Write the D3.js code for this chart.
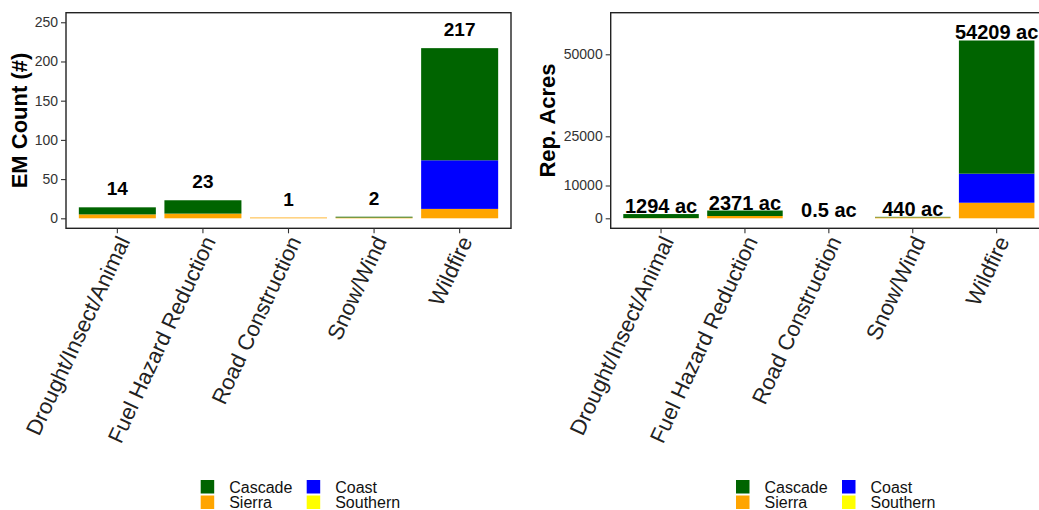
<!DOCTYPE html>
<html>
<head>
<meta charset="utf-8">
<script src="https://cdn.jsdelivr.net/npm/d3@7"></script>
<style>
  body { margin: 0; background: #fff; }
  svg { display: block; font-family: "Liberation Sans", Arial, sans-serif; }
</style>
</head>
<body>
<div class="canvas"></div>
<script>
// categories and regions
const categories = ["Drought/Insect/Animal", "Fuel Hazard Reduction", "Road Construction", "Snow/Wind", "Wildfire"];
const regions = ["Cascade", "Coast", "Sierra", "Southern"];
const regionColors = ["#006400", "#0000FF", "#FFA500", "#FFFF00"];

// EM counts per region
const countCascade = [9, 17, 0, 1, 143];
const countCoast = [0, 0, 0, 0, 62];
const countSierra = [5, 6, 1, 1, 12];
const countSouthern = [0, 0, 0, 0, 0];

// reported acres per region
const acresCascade = [1234, 1671, 0, 150, 40609];
const acresCoast = [0, 0, 0, 0, 8850];
const acresSierra = [60, 700, 0.5, 290, 4750];
const acresSouthern = [0, 0, 0, 0, 0];

const countTicks = [0, 50, 100, 150, 200, 250];
const acresTicks = [0, 10000, 25000, 50000];

const W = 1039, H = 510;
const color = d3.scaleOrdinal().domain(regions).range(regionColors);

const svg = d3.select(".canvas").append("svg")
  .attr("width", W).attr("height", H);
svg.append("rect").attr("width", W).attr("height", H).attr("fill", "#fff");

const toRows = (cas, coa, sie, sou) => categories.map((c, i) => ({
  cat: c, Cascade: cas[i], Coast: coa[i], Sierra: sie[i], Southern: sou[i]
}));

// stacking bottom -> top like ggplot
const stack = d3.stack().keys(["Southern", "Sierra", "Coast", "Cascade"]);

const drawPanel = (opt) => {
  const { left, right, top, bottom, rows, yDomain, ticks, title, titleX, label, labelOffset, labelSize, legendX } = opt;

  const x = d3.scaleBand().domain(categories).range([left, right])
    .paddingInner(0.1).paddingOuter(0.15);
  const y = d3.scaleLinear().domain(yDomain).range([bottom, top]);

  const g = svg.append("g");

  const layers = stack(rows);
  g.selectAll("g.layer").data(layers).join("g")
    .attr("class", "layer")
    .attr("fill", (d) => color(d.key))
    .selectAll("rect").data((d) => d).join("rect")
    .attr("x", (d) => x(d.data.cat))
    .attr("width", x.bandwidth())
    .attr("y", (d) => y(d[1]))
    .attr("height", (d) => Math.max(0, y(d[0]) - y(d[1])));

  // totals above bars
  const totals = rows.map((r) => ({ cat: r.cat, total: r.Cascade + r.Coast + r.Sierra + r.Southern }));
  g.selectAll("text.total").data(totals).join("text")
    .attr("class", "total")
    .attr("x", (d) => x(d.cat) + x.bandwidth() / 2)
    .attr("y", (d) => y(d.total) - labelOffset)
    .attr("text-anchor", "middle")
    .attr("font-weight", "bold")
    .attr("font-size", labelSize)
    .attr("fill", "#000")
    .text(label);

  // frame
  svg.append("rect")
    .attr("x", left).attr("y", top)
    .attr("width", right - left).attr("height", bottom - top)
    .attr("fill", "none").attr("stroke", "#222").attr("stroke-width", 1.4);

  // y axis
  const yAxis = svg.append("g")
    .attr("transform", `translate(${left},0)`)
    .call(d3.axisLeft(y).tickValues(ticks).tickSize(5).tickPadding(3).tickFormat(d3.format("d")));
  yAxis.select(".domain").remove();
  yAxis.selectAll("line").attr("stroke", "#333").attr("stroke-width", 1.1);
  yAxis.selectAll("text").attr("font-size", 14).attr("fill", "#333")
    .attr("font-family", "Liberation Sans, Arial, sans-serif");

  // x axis ticks + rotated labels
  const xAxis = svg.append("g");
  xAxis.selectAll("line").data(categories).join("line")
    .attr("x1", (d) => x(d) + x.bandwidth() / 2)
    .attr("x2", (d) => x(d) + x.bandwidth() / 2)
    .attr("y1", bottom).attr("y2", bottom + 5)
    .attr("stroke", "#333").attr("stroke-width", 1.1);
  xAxis.selectAll("text").data(categories).join("text")
    .attr("transform", (d) => `translate(${x(d) + x.bandwidth() / 2 - 1},${bottom + 6}) rotate(-65)`)
    .attr("text-anchor", "end")
    .attr("dy", "0.71em")
    .attr("font-size", 22)
    .attr("fill", "#222")
    .text((d) => d);

  // y title
  svg.append("text")
    .attr("transform", `translate(${titleX},${(top + bottom) / 2}) rotate(-90)`)
    .attr("text-anchor", "middle")
    .attr("dy", "0.35em")
    .attr("font-weight", "bold")
    .attr("font-size", 22)
    .text(title);

  // legend, two columns
  const lg = svg.append("g").attr("transform", `translate(${legendX},480)`);
  const pos = [[0, 0], [106, 0], [0, 15.5], [106, 15.5]];
  regions.forEach((r, i) => {
    const it = lg.append("g").attr("transform", `translate(${pos[i][0]},${pos[i][1]})`);
    it.append("rect").attr("width", 13.5).attr("height", 13.5).attr("fill", color(r));
    it.append("text").attr("x", 28.5).attr("y", 7).attr("dy", "0.35em")
      .attr("font-size", 16).attr("fill", "#111").text(r);
  });
};

drawPanel({
  left: 66, right: 511, top: 12.7, bottom: 228.3,
  rows: toRows(countCascade, countCoast, countSierra, countSouthern),
  yDomain: [-12.75, 262.2], ticks: countTicks,
  title: "EM Count (#)", titleX: 19,
  label: (d) => d3.format("d")(d.total), labelOffset: 12, labelSize: 19,
  legendX: 200.7
});

drawPanel({
  left: 610.7, right: 1047, top: 12.7, bottom: 228.3,
  rows: toRows(acresCascade, acresCoast, acresSierra, acresSouthern),
  yDomain: [-3049, 62683], ticks: acresTicks,
  title: "Rep. Acres", titleX: 547,
  label: (d) => `${d.total} ac`, labelOffset: 1, labelSize: 20,
  legendX: 736
});
</script>
</body>
</html>
